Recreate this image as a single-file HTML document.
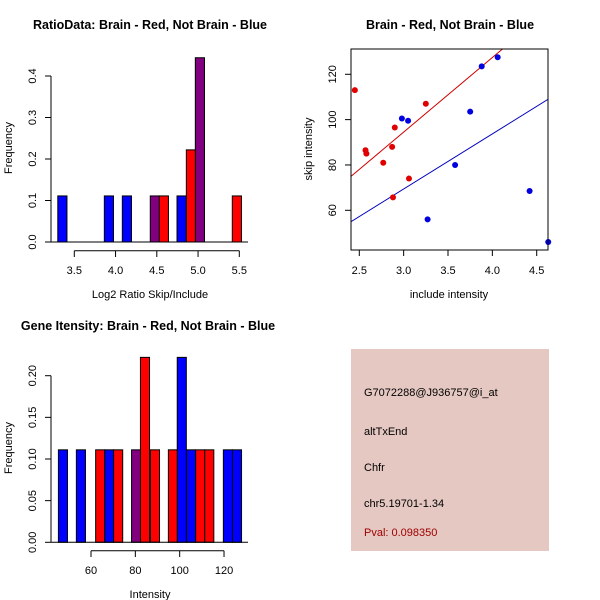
<!DOCTYPE html>
<html><head><meta charset="utf-8"><style>
body{margin:0;background:#fff}
svg{display:block;font-family:"Liberation Sans",sans-serif}
</style></head><body>
<svg id="s" width="600" height="600" viewBox="0 0 600 600">
<rect width="600" height="600" fill="#fff"/>
<text x="150" y="29" text-anchor="middle" font-size="12.5" font-weight="bold">RatioData: Brain - Red, Not Brain - Blue</text>
<text x="450" y="29" text-anchor="middle" font-size="12.5" font-weight="bold">Brain - Red, Not Brain - Blue</text>
<text x="148" y="330" text-anchor="middle" font-size="12.5" font-weight="bold">Gene Itensity: Brain - Red, Not Brain - Blue</text>
<text x="150" y="298" text-anchor="middle" font-size="11">Log2 Ratio Skip/Include</text>
<text transform="translate(12,148) rotate(-90)" text-anchor="middle" font-size="11">Frequency</text>
<text x="449" y="298" text-anchor="middle" font-size="11">include intensity</text>
<text transform="translate(312,149) rotate(-90)" text-anchor="middle" font-size="11">skip intensity</text>
<text x="150" y="598" text-anchor="middle" font-size="11">Intensity</text>
<text transform="translate(12,448) rotate(-90)" text-anchor="middle" font-size="11">Frequency</text>
<g>
<rect x="351" y="349" width="198" height="202" fill="#e5c8c2"/>
<text x="364" y="396" font-size="11">G7072288@J936757@i_at</text>
<text x="364" y="435" font-size="11">altTxEnd</text>
<text x="364" y="471" font-size="11">Chfr</text>
<text x="364" y="507" font-size="11">chr5.19701-1.34</text>
<text x="364" y="536" font-size="11" fill="#a00000">Pval: 0.098350</text>
</g>
<g id="g1"></g><g id="g2"></g><g id="g3"></g>
</svg>
<script>
// Ratio histogram
const ratioLefts=[3.30,3.864,4.082,4.421,4.530,4.745,4.858,4.967,5.415];
const ratioHeights=[0.111,0.111,0.111,0.111,0.111,0.111,0.222,0.444,0.111];
const ratioColors=['blue','blue','blue','purple','red','blue','red','purple','red'];
const ratioXTicks=[3.5,4.0,4.5,5.0,5.5];
const ratioYTicks=[0.0,0.1,0.2,0.3,0.4];
const ratioWidth=0.111;
// Scatter
const redX=[2.45,2.57,2.58,2.77,2.87,2.90,2.88,3.06,3.25];
const redY=[113,86.5,85,81,88,96.5,65.7,74,107];
const blueX=[2.98,3.05,3.27,3.58,3.75,3.88,4.06,4.42,4.63];
const blueY=[100.5,99.5,56,80,103.5,123.5,127.5,68.5,46];
const redFit=[-4.2,32.9];
const blueFit=[-3.5,24.3];
const scatXTicks=[2.5,3.0,3.5,4.0,4.5];
const scatYTicks=[60,80,100,120];
// Intensity histogram
const intLefts=[45.3,53.4,62.1,66.2,70.2,78.3,82.3,86.8,94.9,98.9,103.1,107.2,111.3,119.7,123.8];
const intHeights=[0.111,0.111,0.111,0.111,0.111,0.111,0.222,0.111,0.111,0.222,0.111,0.111,0.111,0.111,0.111];
const intColors=['blue','blue','red','blue','red','purple','red','red','red','blue','blue','red','red','blue','blue'];
const intXTicks=[60,80,100,120];
const intYTicks=['0.00','0.05','0.10','0.15','0.20'];
const intWidth=4.1;

const NS='http://www.w3.org/2000/svg';
function mk(p,t,a){const e=document.createElementNS(NS,t);for(const k in a)e.setAttribute(k,a[k]);p.appendChild(e);return e;}
function line(p,x1,y1,x2,y2,c,w){return mk(p,'line',{x1,y1,x2,y2,stroke:c||'#000','stroke-width':w||1});}
function txt(p,x,y,s,anchor,rot){const t=mk(p,'text',{x,y,'font-size':11,'text-anchor':anchor||'middle'});if(rot)t.setAttribute('transform',`rotate(-90 ${x} ${y})`);t.textContent=s;return t;}

// Plot 1
{const g=document.getElementById('g1');
const sx=v=>74.3+(v-3.5)*82.5, sy=v=>242-v*415;
ratioLefts.forEach((l,i)=>{const r=mk(g,'rect',{x:sx(l),y:sy(ratioHeights[i]),width:sx(l+ratioWidth)-sx(l),height:242-sy(ratioHeights[i]),fill:ratioColors[i],stroke:'#000'});

});
line(g,51,242,248,242);
line(g,51,sy(0),51,sy(0.4));
ratioYTicks.forEach(v=>{line(g,45,sy(v),51,sy(v));const t=txt(g,36,sy(v),v.toFixed(1),'middle',true);

});
line(g,sx(3.5),250.7,sx(5.5),250.7);
ratioXTicks.forEach(v=>{line(g,sx(v),250.7,sx(v),257);const t=txt(g,sx(v),274,v.toFixed(1));

});}

// Plot 2
{const g=document.getElementById('g2');
const sx=v=>359.3+(v-2.5)*88.7, sy=v=>210.3-(v-60)*2.267;
const X0=351,X1=548,Y0=49,Y1=250;
const cp=mk(g,'clipPath',{id:'cp'});mk(cp,'rect',{x:X0,y:Y0,width:X1-X0,height:Y1-Y0});
const gc=mk(g,'g',{'clip-path':'url(#cp)'});
const xa=2.3,xb=4.8;
const rl=line(gc,sx(xa),sy(redFit[0]+redFit[1]*xa),sx(xb),sy(redFit[0]+redFit[1]*xb),'#d00000');


const bl=line(gc,sx(xa),sy(blueFit[0]+blueFit[1]*xa),sx(xb),sy(blueFit[0]+blueFit[1]*xb),'#0000c0');


redX.forEach((x,i)=>{const c=mk(g,'circle',{cx:sx(x),cy:sy(redY[i]),r:3,fill:'#e00000'});

});
blueX.forEach((x,i)=>{const c=mk(g,'circle',{cx:sx(x),cy:sy(blueY[i]),r:3,fill:'#0000e0'});

});
mk(g,'rect',{x:X0,y:Y0,width:X1-X0,height:Y1-Y0,fill:'none',stroke:'#000'});
scatXTicks.forEach(v=>{line(g,sx(v),Y1,sx(v),Y1+6);const t=txt(g,sx(v),274,v.toFixed(1));

});
scatYTicks.forEach(v=>{line(g,X0-6,sy(v),X0,sy(v));const t=txt(g,336,sy(v),String(v),'middle',true);

});}

// Plot 3
{const g=document.getElementById('g3');
const sx=v=>91+(v-60)*2.217, sy=v=>542.3-v*833;
intLefts.forEach((l,i)=>{const r=mk(g,'rect',{x:sx(l),y:sy(intHeights[i]),width:sx(l+intWidth)-sx(l),height:542.3-sy(intHeights[i]),fill:intColors[i],stroke:'#000'});

});
line(g,51,542.3,248,542.3);
line(g,51,sy(0),51,sy(0.2));
intYTicks.forEach(s=>{const v=parseFloat(s);line(g,45,sy(v),51,sy(v));const t=txt(g,36,sy(v),s,'middle',true);

});
line(g,sx(60),550.7,sx(120),550.7);
intXTicks.forEach(v=>{line(g,sx(v),550.7,sx(v),557);const t=txt(g,sx(v),574,String(v));

});}
</script>
</body></html>
